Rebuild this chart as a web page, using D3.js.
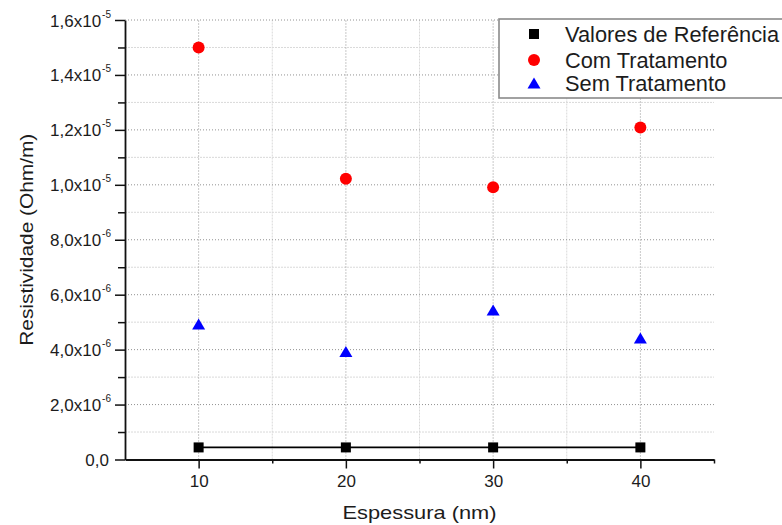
<!DOCTYPE html>
<html>
<head>
<meta charset="utf-8">
<script src="https://cdn.jsdelivr.net/npm/d3@7/dist/d3.min.js"></script>
<style>
  html, body { margin: 0; padding: 0; background: #fff; overflow: hidden; }
  svg { display: block; font-family: "Liberation Sans", Arial, sans-serif; }
</style>
</head>
<body>
<svg id="chart" width="782" height="525"></svg>
<script>
// Film thickness (nm)
const thickness = [10, 20, 30, 40];
// Resistivity (Ohm/m) per series
const referenceValues = [4.4e-7, 4.4e-7, 4.4e-7, 4.4e-7];
const withTreatment   = [1.50e-5, 1.022e-5, 9.91e-6, 1.209e-5];
const withoutTreatment = [4.93e-6, 3.93e-6, 5.44e-6, 4.42e-6];

const seriesNames = ["Valores de Referência", "Com Tratamento", "Sem Tratamento"];

// Axis ticks
const xMajorTicks = [10, 20, 30, 40];
const xMinorTicks = [15, 25, 35, 45];
const yMajorTicks = [0, 2e-6, 4e-6, 6e-6, 8e-6, 1.0e-5, 1.2e-5, 1.4e-5, 1.6e-5];
const yMinorTicks = [1e-6, 3e-6, 5e-6, 7e-6, 9e-6, 1.1e-5, 1.3e-5, 1.5e-5];

const xTitle = "Espessura (nm)";
const yTitle = "Resistividade (Ohm/m)";

const svg = d3.select("#chart");

const x = d3.scaleLinear().domain([5, 45]).range([125, 714]);
const y = d3.scaleLinear().domain([0, 1.6e-5]).range([459.5, 20]);

const textColor = "#1c1c1c";

// Grid: light minor lines first, dotted major lines on top
const grid = svg.append("g");
grid.selectAll("line.vminor").data(xMinorTicks.filter(v => v < 45)).join("line")
  .attr("x1", d => x(d)).attr("x2", d => x(d))
  .attr("y1", y(0)).attr("y2", y(1.6e-5))
  .attr("stroke", "#d9d9d9").attr("stroke-width", 1).attr("stroke-dasharray", "2,1");
grid.selectAll("line.hminor").data(yMinorTicks).join("line")
  .attr("x1", x(5)).attr("x2", x(45))
  .attr("y1", d => y(d)).attr("y2", d => y(d))
  .attr("stroke", "#d9d9d9").attr("stroke-width", 1).attr("stroke-dasharray", "2,1");
grid.selectAll("line.vmajor").data(xMajorTicks).join("line")
  .attr("x1", d => x(d)).attr("x2", d => x(d))
  .attr("y1", y(0)).attr("y2", y(1.6e-5))
  .attr("stroke", "#929292").attr("stroke-width", 1).attr("stroke-dasharray", "1,2");
grid.selectAll("line.hmajor").data(yMajorTicks.filter(v => v > 0)).join("line")
  .attr("x1", x(5)).attr("x2", x(45))
  .attr("y1", d => y(d)).attr("y2", d => y(d))
  .attr("stroke", "#929292").attr("stroke-width", 1).attr("stroke-dasharray", "1,2");

// X axis
const xAxis = svg.append("g").attr("transform", `translate(0,${y(0)})`)
  .call(d3.axisBottom(x).tickValues(xMajorTicks).tickSize(9).tickSizeOuter(0).tickPadding(6));
xAxis.select(".domain").attr("stroke", "#111").attr("stroke-width", 1.8);
xAxis.selectAll(".tick line").attr("stroke", "#111").attr("stroke-width", 1.5);
xAxis.selectAll(".tick text").attr("font-size", "17px").attr("fill", textColor)
  .attr("font-family", "Liberation Sans, Arial, sans-serif");
svg.append("g").attr("transform", `translate(0,${y(0)})`)
  .call(d3.axisBottom(x).tickValues(xMinorTicks).tickSize(4).tickSizeOuter(0).tickFormat(""))
  .call(g => g.select(".domain").remove())
  .call(g => g.selectAll(".tick line").attr("stroke", "#111").attr("stroke-width", 1.5));

// Y axis with scientific labels (comma decimal, superscript exponent)
const yAxis = svg.append("g").attr("transform", `translate(${x(5)},0)`)
  .call(d3.axisLeft(y).tickValues(yMajorTicks).tickSize(10).tickSizeOuter(0).tickFormat(""));
yAxis.select(".domain").attr("stroke", "#111").attr("stroke-width", 1.8);
yAxis.selectAll(".tick line").attr("stroke", "#111").attr("stroke-width", 1.5);
svg.append("g").attr("transform", `translate(${x(5)},0)`)
  .call(d3.axisLeft(y).tickValues(yMinorTicks).tickSize(7).tickSizeOuter(0).tickFormat(""))
  .call(g => g.select(".domain").remove())
  .call(g => g.selectAll(".tick line").attr("stroke", "#111").attr("stroke-width", 1.5));

const yLabels = svg.append("g");
yMajorTicks.forEach(v => {
  const t = yLabels.append("text")
    .attr("x", 111).attr("y", y(v) + 6.5)
    .attr("text-anchor", "end")
    .attr("font-size", "17px").attr("fill", textColor);
  if (v === 0) {
    t.attr("x", 109).text("0,0");
    return;
  }
  const exp = Math.floor(Math.log10(v) + 1e-9);
  const mant = v / Math.pow(10, exp);
  t.append("tspan").text(mant.toFixed(1).replace(".", ",") + "x10");
  t.append("tspan").attr("dy", -9).attr("dx", 1).attr("font-size", "10px").text("" + exp);
});

// Axis titles
svg.append("text")
  .attr("x", (x(5) + x(45)) / 2).attr("y", 519)
  .attr("text-anchor", "middle").attr("font-size", "19px").attr("fill", textColor)
  .attr("textLength", 154).attr("lengthAdjust", "spacingAndGlyphs")
  .text(xTitle);
svg.append("text")
  .attr("transform", `translate(33,${(y(0) + y(1.6e-5)) / 2}) rotate(-90)`)
  .attr("text-anchor", "middle").attr("font-size", "19px").attr("fill", textColor)
  .attr("textLength", 212).attr("lengthAdjust", "spacingAndGlyphs")
  .text(yTitle);

// Marker shapes
const triPath = (cx, cy) => `M${cx},${cy - 5.5}L${cx + 6.5},${cy + 5.5}L${cx - 6.5},${cy + 5.5}Z`;

// Reference series: line + squares
svg.append("path")
  .datum(thickness.map((t, i) => [t, referenceValues[i]]))
  .attr("fill", "none").attr("stroke", "#000").attr("stroke-width", 1.6)
  .attr("d", d3.line().x(d => x(d[0])).y(d => y(d[1])));
svg.append("g").selectAll("rect").data(thickness.map((t, i) => [t, referenceValues[i]])).join("rect")
  .attr("x", d => x(d[0]) - 5).attr("y", d => y(d[1]) - 5)
  .attr("width", 10).attr("height", 10).attr("fill", "#000");

// With treatment: red circles
svg.append("g").selectAll("circle").data(thickness.map((t, i) => [t, withTreatment[i]])).join("circle")
  .attr("cx", d => x(d[0])).attr("cy", d => y(d[1])).attr("r", 6).attr("fill", "#ff0000");

// Without treatment: blue triangles
svg.append("g").selectAll("path").data(thickness.map((t, i) => [t, withoutTreatment[i]])).join("path")
  .attr("d", d => triPath(x(d[0]), y(d[1]))).attr("fill", "#0000ff");

// Legend (box runs past the right edge of the page)
const legend = svg.append("g");
legend.append("rect").attr("x", 499).attr("y", 19).attr("width", 320).attr("height", 79)
  .attr("fill", "#fff").attr("stroke", "#8a8a8a").attr("stroke-width", 1.6);
const rowY = [34, 60, 83];
legend.append("rect").attr("x", 529).attr("y", rowY[0] - 5).attr("width", 10).attr("height", 10).attr("fill", "#000");
legend.append("circle").attr("cx", 534).attr("cy", rowY[1]).attr("r", 6).attr("fill", "#ff0000");
legend.append("path").attr("d", triPath(534, rowY[2])).attr("fill", "#0000ff");
legend.selectAll("text").data(seriesNames).join("text")
  .attr("x", 565).attr("y", (d, i) => rowY[i] + 7.5)
  .attr("font-size", "21.8px").attr("fill", textColor)
  .text(d => d);
</script>
</body>
</html>
